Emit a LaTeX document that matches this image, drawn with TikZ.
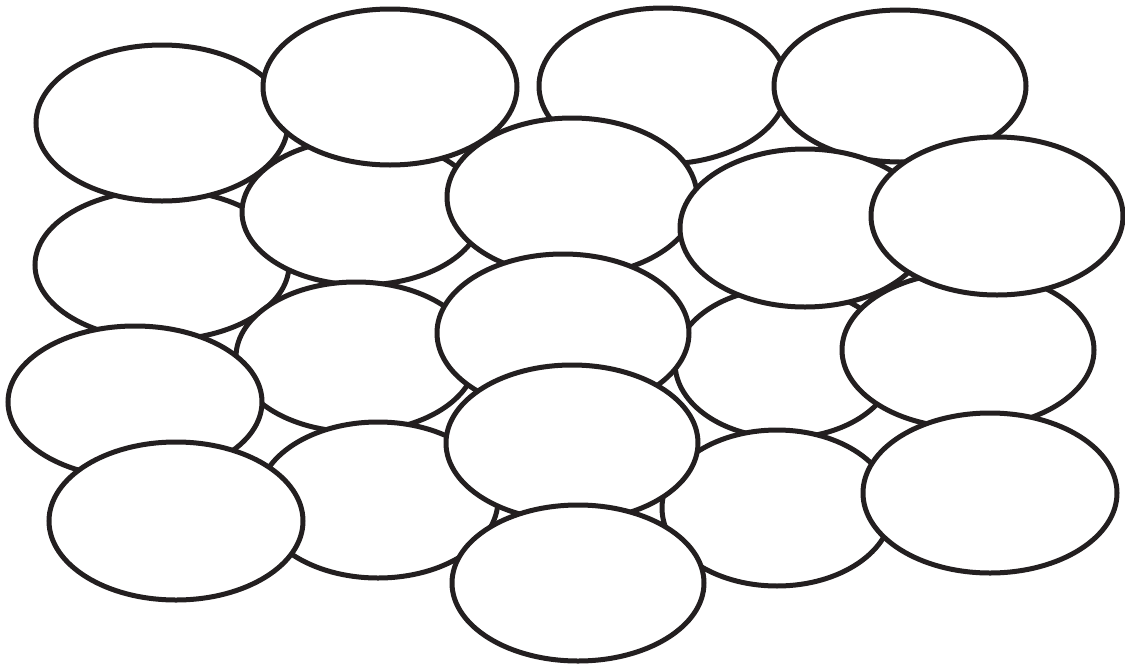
\documentclass[tikz,border=0pt]{standalone}
\definecolor{ink}{HTML}{231F20}
\begin{document}
\begin{tikzpicture}[x=1pt,y=-1pt,
  cell/.style={draw=ink, fill=white, line width=5pt}]
\useasboundingbox (0,0) rectangle (1125,667);
% back to front
\foreach \n/\cx/\cy/\rx/\ry in {
  e9/162/265/127/75, e5/362/212/120/73, e11/356/357/120/75, e13/785/363/110/75,
  e16/378/500/120/78, e19/777/508/115/78, e14/968/350/126/78,
  e1/162/123/126/78, e2/390/87/127/78, e3/663/86/124/78, e4/900/86/126/76,
  e6/572/197/125/79, e7/805/228/125/79, e8/997/216/126/79,
  e10/135/402/127/76, e12/563/333/126/79, e15/572/443/126/78,
  e17/176/521/127/79, e18/578/583/126/78, e20/990/493/127/80}
{
  \path[cell] (\cx,\cy) ellipse [x radius=\rx, y radius=\ry];
  \coordinate (\n) at (\cx,\cy);
}
\end{tikzpicture}
\end{document}
